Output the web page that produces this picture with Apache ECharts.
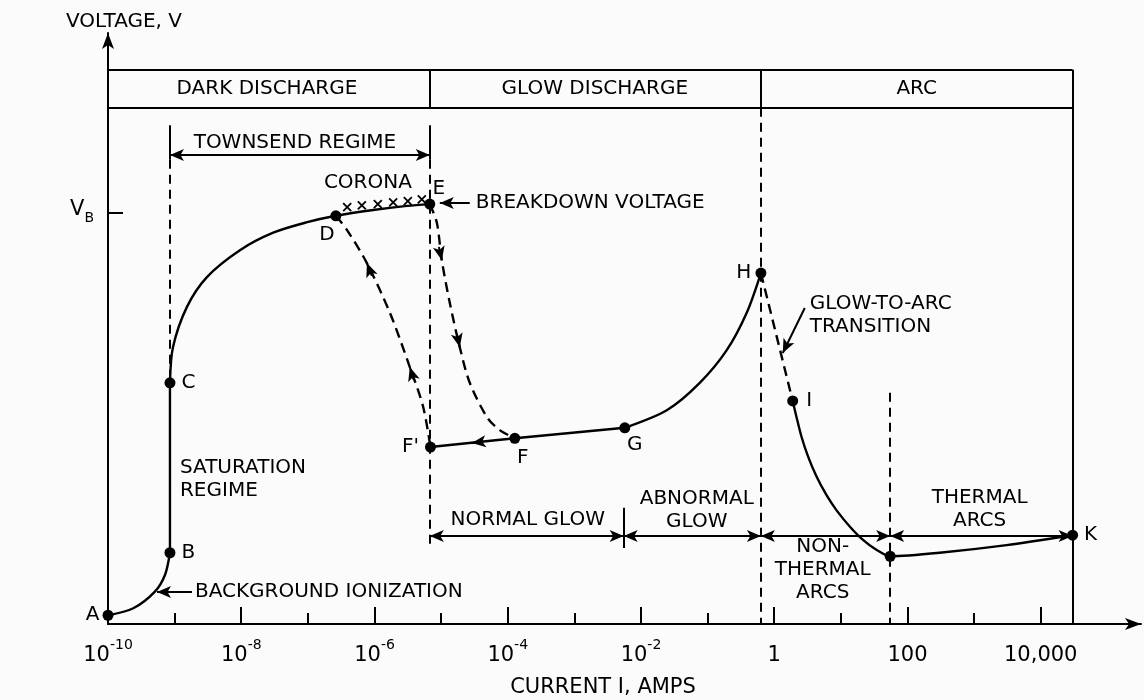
<!DOCTYPE html>
<html>
<head>
<meta charset="utf-8">
<script src="https://cdn.jsdelivr.net/npm/echarts@6/dist/echarts.min.js"></script>
<style>
html, body { margin: 0; padding: 0; background: #fbfbfb; }
#chart { width: 1144px; height: 700px; }
</style>
</head>
<body>
<div id="chart"></div>
<script>
// x = log10 of current I (amps), y = voltage in arbitrary units (V_B at about 70.5)
const majorTicks = [-10, -8, -6, -4, -2, 0, 2, 4]
const minorTicks = [-9, -7, -5, -3, -1, 1, 3]
const tickLabels = ['{n|10}{s|-10}', '{n|10}{s|-8}', '{n|10}{s|-6}', '{n|10}{s|-4}', '{n|10}{s|-2}', '{n|1}', '{n|100}', '{n|10,000}']
const breakdownV = 70.5

// curve pieces, [log10 I, V]
const curveAB = [[-10, 1.5], [-9.62, 2.7], [-9.3, 5.5], [-9.145, 8.4], [-9.07, 12.2]]
const curveBC = [[-9.07, 12.2], [-9.07, 41.3]]
const curveCE = [[-9.07, 41.3], [-9.025, 47.4], [-8.815, 54.3], [-8.515, 59.4], [-8.02, 64.0], [-7.52, 67.0],
    [-7.01, 68.8], [-6.58, 69.9], [-6.02, 70.9], [-5.51, 71.6], [-5.17, 71.9]]
const curveDF1 = [[-6.58, 69.9], [-6.414, 67.5], [-6.114, 61.8], [-5.769, 53.3], [-5.47, 44.0], [-5.27, 37.2], [-5.16, 30.3]]
const curveEF = [[-5.17, 71.9], [-5.064, 68.7], [-4.99, 62.3], [-4.87, 55.0], [-4.72, 47.4], [-4.57, 41.3],
    [-4.31, 35.4], [-4.12, 33.2], [-3.894, 31.8]]
const curveFG = [[-5.16, 30.3], [-3.894, 31.8], [-2.243, 33.6]]
const curveGH = [[-2.243, 33.6], [-1.613, 36.6], [-1.118, 41.3], [-0.713, 46.9], [-0.413, 53.3], [-0.2, 60.1]]
const curveHI = [[-0.2, 60.1], [0.277, 38.2]]
const curveIK = [[0.277, 38.2], [0.333, 35.5], [0.408, 32.1], [0.507, 28.7], [0.633, 25.3], [0.783, 22.1],
    [0.933, 19.5], [1.133, 16.7], [1.332, 14.4], [1.533, 12.7], [1.74, 11.6], [2.483, 12.2], [3.488, 13.5], [4.478, 15.2]]

// labelled points
const pointNames = ['A', 'B', 'C', 'D', 'E', "F'", 'F', 'G', 'H', 'I', '', 'K']
const pointX = [-10, -9.07, -9.07, -6.58, -5.17, -5.16, -3.894, -2.243, -0.2, 0.277, 1.74, 4.478]
const pointY = [1.5, 12.2, 41.3, 69.9, 71.9, 30.3, 31.8, 33.6, 60.1, 38.2, 11.6, 15.2]

// corona crosses
const coronaX = [-6.41, -6.19, -5.95, -5.72, -5.50, -5.29]
const coronaY = [71.4, 71.7, 71.9, 72.2, 72.4, 72.7]

// regime boundaries (log10 I) and band levels (V)
const edgeSat = -9.07
const edgeE = -5.17
const edgeGlow = -2.26
const edgeH = -0.2
const edgeThermal = 1.74
const edgeK = 4.478
const bandTop = 94.9
const bandBottom = 88.4
const townsendV = 80.3
const regimeRowV = 15.07

const ink = '#000'
const font = 'DejaVu Sans'

let myChart = echarts.init(document.getElementById('chart'))

function seg (a, b, type) {
    return [{ coord: a, lineStyle: { type: type || 'solid' } }, { coord: b }]
}
function arrow (a, b, both) {
    return [{ coord: a, symbol: both ? 'arrow' : 'none' }, { coord: b, symbol: 'arrow' }]
}
function curve (name, data, dashed, smooth) {
    return {
        name: name,
        type: 'line',
        data: data,
        showSymbol: false,
        silent: true,
        smooth: smooth || false,
        lineStyle: { color: ink, width: 2.4, type: dashed ? [10, 6] : 'solid' },
        z: 3
    }
}

const dashes = [9, 6]
const frameLines = [
    seg([-10, bandTop], [edgeK, bandTop]),
    seg([-10, bandBottom], [edgeK, bandBottom]),
    seg([edgeE, bandBottom], [edgeE, bandTop]),
    seg([edgeH, bandBottom], [edgeH, bandTop]),
    seg([edgeK, bandTop], [edgeK, 0]),
    seg([edgeSat, 85.4], [edgeSat, 79.5]),
    seg([edgeSat, 79.5], [edgeSat, 41.3], dashes),
    seg([edgeE, 85.4], [edgeE, 79.5]),
    seg([edgeE, 79.5], [edgeE, 13.2], dashes),
    seg([edgeH, bandBottom], [edgeH, 0], dashes),
    seg([edgeThermal, 39.6], [edgeThermal, 0], dashes),
    seg([edgeGlow, 19.9], [edgeGlow, 13.0])
]

const arrowLines = [
    arrow([edgeSat, townsendV], [edgeE, townsendV], true),
    arrow([edgeE, regimeRowV], [edgeGlow, regimeRowV], true),
    arrow([edgeGlow, regimeRowV], [edgeH, regimeRowV], true),
    arrow([edgeH, regimeRowV], [edgeThermal, regimeRowV], true),
    arrow([edgeThermal, regimeRowV], [edgeK, regimeRowV], true),
    arrow([-4.57, 72.1], [-5.02, 72.1]),
    arrow([-8.74, 5.48], [-9.265, 5.48]),
    arrow([0.458, 54.1], [0.128, 46.4]),
    // direction marks on the curves
    arrow([-6.039, 59.6], [-6.114, 61.8]),
    arrow([-5.41, 41.8], [-5.47, 44.0]),
    arrow([-5.034, 64.55], [-4.989, 62.3]),
    arrow([-4.764, 49.66], [-4.719, 47.4]),
    arrow([-4.359, 31.25], [-4.539, 31.0])
]

const notes = [
    { t: 'DARK DISCHARGE', v: [-7.614, 91.65], c: true },
    { t: 'GLOW DISCHARGE', v: [-2.693, 91.65], c: true },
    { t: 'ARC', v: [2.138, 91.65], c: true },
    { t: 'TOWNSEND REGIME', v: [-7.194, 82.4], c: true },
    { t: 'CORONA', v: [-6.099, 75.5], c: true },
    { t: 'BREAKDOWN VOLTAGE', v: [-4.479, 72.1] },
    { t: 'SATURATION\nREGIME', v: [-8.92, 24.7] },
    { t: 'BACKGROUND IONIZATION', v: [-8.695, 5.48] },
    { t: 'NORMAL GLOW', v: [-3.70, 17.8], c: true },
    { t: 'ABNORMAL\nGLOW', v: [-1.163, 19.5], c: true },
    { t: 'GLOW-TO-ARC\nTRANSITION', v: [0.533, 52.9] },
    { t: 'THERMAL\nARCS', v: [3.083, 19.7], c: true },
    { t: 'NON-\nTHERMAL\nARCS', v: [0.728, 9.25], c: true }
]

const pointLabel = {
    'A': { position: 'left', distance: 3 },
    'B': { position: 'right', distance: 6 },
    'C': { position: 'right', distance: 6 },
    'D': { position: 'bottom', distance: 4, offset: [-9, 0] },
    'E': { position: 'top', distance: 2, offset: [9, 2] },
    "F'": { position: 'left', distance: 6 },
    'F': { position: 'bottom', distance: 4, offset: [8, 0] },
    'G': { position: 'bottom', distance: 2, offset: [10, 0] },
    'H': { position: 'left', distance: 4 },
    'I': { position: 'right', distance: 8 },
    'K': { position: 'right', distance: 6 }
}

const textStyleBase = { color: ink, fontFamily: font, fontSize: 20, opacity: 1 }

let option = {
    backgroundColor: '#fbfbfb',
    animation: false,
    textStyle: { fontFamily: font, color: ink },
    grid: { left: 108, right: 3, top: 33, bottom: 76 },
    graphic: [
        { type: 'text', x: 66, y: 22, style: { text: 'VOLTAGE, V', font: '20px "DejaVu Sans"', fill: ink, verticalAlign: 'middle' } },
        { type: 'text', x: 603, y: 688, style: { text: 'CURRENT I, AMPS', font: '21px "DejaVu Sans"', fill: ink, align: 'center', verticalAlign: 'middle' } }
    ],
    xAxis: [{
        type: 'value',
        min: -10,
        max: 5.505,
        position: 'bottom',
        splitLine: { show: false },
        axisLine: { onZero: false, lineStyle: { color: ink, width: 2 }, symbol: ['none', 'arrow'], symbolSize: [9, 16] },
        axisTick: { inside: true, length: 17, customValues: majorTicks, lineStyle: { color: ink, width: 2 } },
        axisLabel: {
            customValues: majorTicks,
            margin: 14,
            formatter: function (val) {
                return tickLabels[majorTicks.indexOf(val)]
            },
            rich: {
                n: { fontSize: 21, fontFamily: font, color: ink, lineHeight: 28, verticalAlign: 'bottom' },
                s: { fontSize: 14, fontFamily: font, color: ink, lineHeight: 17, verticalAlign: 'top' }
            },
            color: ink
        }
    }, {
        type: 'value',
        min: -10,
        max: 5.505,
        position: 'bottom',
        splitLine: { show: false },
        axisLine: { show: false, onZero: false },
        axisTick: { inside: true, length: 11, customValues: minorTicks, lineStyle: { color: ink, width: 2 } },
        axisLabel: { show: false }
    }],
    yAxis: {
        type: 'value',
        min: 0,
        max: 101.2,
        splitLine: { show: false },
        axisLine: { onZero: false, lineStyle: { color: ink, width: 2 }, symbol: ['none', 'arrow'], symbolSize: [9, 16] },
        axisTick: { inside: true, length: 15, customValues: [breakdownV], lineStyle: { color: ink, width: 2 } },
        axisLabel: {
            customValues: [breakdownV],
            margin: 14,
            formatter: function () { return '{n|V}{s|B}' },
            rich: {
                n: { fontSize: 21, fontFamily: font, color: ink, lineHeight: 26, verticalAlign: 'top' },
                s: { fontSize: 14, fontFamily: font, color: ink, lineHeight: 15, verticalAlign: 'bottom' }
            }
        }
    },
    series: [
        curve('AB', curveAB, false, 0.3),
        curve('BC', curveBC, false, false),
        curve('CE', curveCE, false, 0.3),
        curve('DF1', curveDF1, true, 0.3),
        curve('EF', curveEF, true, 0.3),
        curve('FG', curveFG, false, false),
        curve('GH', curveGH, false, 0.3),
        curve('HI', curveHI, true, false),
        curve('IK', curveIK, false, 0.25),
        {
            name: 'frame',
            type: 'line',
            data: [[-10, 0]],
            showSymbol: false,
            silent: true,
            markLine: {
                silent: true,
                animation: false,
                symbol: 'none',
                label: { show: false },
                lineStyle: { color: ink, width: 2 },
                emphasis: { disabled: true },
                data: frameLines
            }
        },
        {
            name: 'arrows',
            type: 'line',
            data: [[-10, 0]],
            showSymbol: false,
            silent: true,
            markLine: {
                silent: true,
                animation: false,
                symbolSize: [9, 14],
                label: { show: false },
                lineStyle: { color: ink, width: 2, type: 'solid' },
                itemStyle: { color: ink },
                emphasis: { disabled: true },
                data: arrowLines
            }
        },
        {
            name: 'corona',
            type: 'scatter',
            silent: true,
            symbol: 'path://M0,0L10,10M10,0L0,10',
            symbolSize: 8,
            itemStyle: { color: 'none', borderColor: ink, borderWidth: 1.8, opacity: 1 },
            data: coronaX.map(function (x, i) { return [x, coronaY[i]] }),
            z: 4
        },
        {
            name: 'points',
            type: 'scatter',
            silent: true,
            symbolSize: 11,
            itemStyle: { color: ink, opacity: 1 },
            data: pointX.map(function (x, i) {
                let lab = pointLabel[pointNames[i]]
                return {
                    value: [x, pointY[i]],
                    label: lab ? Object.assign({ show: true, formatter: pointNames[i] }, textStyleBase, lab) : { show: false }
                }
            }),
            z: 5
        },
        {
            name: 'notes',
            type: 'scatter',
            silent: true,
            symbolSize: 0,
            itemStyle: { opacity: 1 },
            data: notes.map(function (n) {
                return {
                    value: n.v,
                    label: Object.assign({
                        show: true,
                        formatter: n.t,
                        lineHeight: 23,
                        align: n.c ? 'center' : 'left',
                        position: n.c ? 'inside' : 'right',
                        distance: 0
                    }, textStyleBase)
                }
            }),
            z: 6
        }
    ]
}

myChart.setOption(option)
window.addEventListener('resize', function () {
    myChart.resize()
})
</script>
</body>
</html>
